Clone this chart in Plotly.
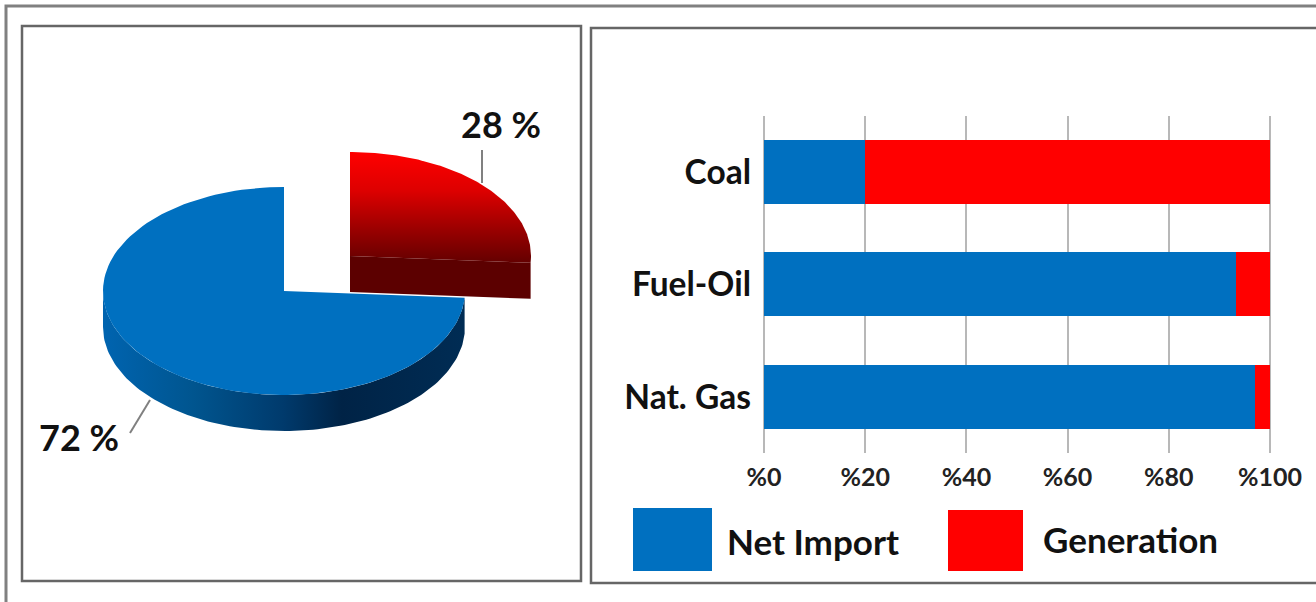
import numpy as np
import plotly.graph_objects as go

# ---- data ----
pie_names = ["Net Import", "Generation"]
pie_values = [72, 28]
categories = ["Coal", "Fuel-Oil", "Nat. Gas"]
net_import = [20, 93.3, 97]
generation = [80, 6.7, 3]
tick_vals = [0, 20, 40, 60, 80, 100]
tick_text = ["%0", "%20", "%40", "%60", "%80", "%100"]

# ---- style ----
W, H = 1316, 602
BLUE, RED = "#0070c0", "#ff0000"
FONT = "Lato"
RX, RY, DEPTH = 181, 104, 36
BLUE_C = (284, 291)
RED_C = (350, 256)
# the tilted 3D rendering shows the small slice slightly narrower than its share
SWEEP_FACTOR = 0.93
# small padding so the 0 and 100 gridlines stay inside the plot area
PAD = 0.4
PAD_PX = PAD * 506 / 100


def arc(cx, cy, t0, t1, n=120):
    t = np.radians(np.linspace(t0, t1, n))
    return cx + RX * np.sin(t), cy - RY * np.cos(t)


red_sweep = 360 * pie_values[1] / sum(pie_values) * SWEEP_FACTOR

fig = go.Figure()

# horizontal stacked bars
fig.add_trace(go.Bar(y=categories, x=net_import, name="Net Import", orientation="h",
                     marker=dict(color=BLUE, line_width=0), xaxis="x", yaxis="y"))
fig.add_trace(go.Bar(y=categories, x=generation, name="Generation", orientation="h",
                     marker=dict(color=RED, line_width=0), xaxis="x", yaxis="y"))


def poly(xs, ys, name, color=None, gradient=None):
    kw = dict(fillgradient=gradient) if gradient is not None else dict(fillcolor=color)
    fig.add_trace(go.Scatter(x=list(xs), y=list(ys), mode="lines", fill="toself",
                             line=dict(width=0), name=name, hoverinfo="name",
                             xaxis="x2", yaxis="y2", **kw))


# blue wall
ax, ay = arc(*BLUE_C, red_sweep, 270)
poly(np.r_[ax, ax[::-1]], np.r_[ay, ay[::-1] + DEPTH], pie_names[0],
     gradient=dict(type="horizontal",
                   colorscale=[[0, "#0064b0"], [0.25, "#00558f"], [0.5, "#003a6c"],
                               [0.66, "#002346"], [1, "#002c54"]]))
# blue top
ax, ay = arc(*BLUE_C, red_sweep, 360)
poly(np.r_[BLUE_C[0], ax, BLUE_C[0]], np.r_[BLUE_C[1], ay, BLUE_C[1]], pie_names[0], color=BLUE)
# red cut face
rx_, ry_ = arc(*RED_C, 0, red_sweep)
poly([RED_C[0], rx_[-1], rx_[-1], RED_C[0], RED_C[0]],
     [RED_C[1], ry_[-1], ry_[-1] + DEPTH, RED_C[1] + DEPTH, RED_C[1]],
     pie_names[1], color="#5c0000")
# red top
poly(np.r_[RED_C[0], rx_, RED_C[0]], np.r_[RED_C[1], ry_, RED_C[1]], pie_names[1],
     gradient=dict(type="vertical",
                   colorscale=[[0, "#640000"], [0.3, "#9a0000"], [0.65, "#dd0000"], [1, "#ff0000"]]))

frame = dict(type="rect", xref="x2", yref="y2", fillcolor="rgba(0,0,0,0)", layer="below")
shapes = [
    dict(frame, x0=6, y0=6, x1=W + 20, y1=H + 20, line=dict(color="#808080", width=3)),
    dict(frame, x0=22, y0=26, x1=581, y1=581, line=dict(color="#666666", width=2.5)),
    dict(frame, x0=591, y0=28, x1=W + 20, y1=583, line=dict(color="#666666", width=2.5)),
    dict(frame, x0=633, y0=508, x1=712, y1=571, fillcolor=BLUE, line_width=0),
    dict(frame, x0=948, y0=510, x1=1023, y1=571, fillcolor=RED, line_width=0),
    dict(type="line", xref="x2", yref="y2", x0=150, y0=400, x1=130, y1=433,
         line=dict(color="#808080", width=2)),
    dict(type="line", xref="x2", yref="y2", x0=482, y0=150, x1=482, y1=183,
         line=dict(color="#808080", width=2), layer="below"),
]


def note(x, y, text, size, anchor="center"):
    return dict(x=x, y=y, xref="x2", yref="y2", text=f"<b>{text}</b>", showarrow=False,
                xanchor=anchor, yanchor="middle", font=dict(family=FONT, size=size, color="#111111"))


annotations = [
    note(79, 437, f"{pie_values[0]} %", 36),
    note(501, 124, f"{pie_values[1]} %", 36),
    note(725, 541, pie_names[0], 35, "left"),
    note(1041, 539, pie_names[1], 35, "left"),
]

fig.update_layout(
    template=None,
    width=W, height=H, margin=dict(l=0, r=0, t=0, b=0, autoexpand=False),
    paper_bgcolor="white", plot_bgcolor="rgba(0,0,0,0)",
    barmode="stack", bargap=0.43, showlegend=False,
    shapes=shapes, annotations=annotations,
    xaxis=dict(domain=[(764 - PAD_PX) / W, (1270 + PAD_PX) / W], range=[-PAD, 100 + PAD],
               tickvals=tick_vals, ticktext=tick_text,
               showgrid=True, gridcolor="#b8b8b8", gridwidth=2, zeroline=False, showline=False,
               ticks="", ticklabelstandoff=7, automargin=False,
               tickfont=dict(family=FONT, size=25, color="#222222", weight="bold"), anchor="y"),
    yaxis=dict(domain=[1 - 453 / H, 1 - 115.75 / H], range=[2.5, -0.5], type="category",
               showgrid=False, zeroline=False, showline=False, ticks="", ticklabelstandoff=10,
               automargin=False,
               tickfont=dict(family=FONT, size=33.5, color="#111111", weight="bold"), anchor="x"),
    xaxis2=dict(domain=[0, 1], range=[0, W], visible=False, fixedrange=True, anchor="y2", automargin=False),
    yaxis2=dict(domain=[0, 1], range=[H, 0], visible=False, fixedrange=True, anchor="x2", automargin=False),
)

fig.write_html("out.html", config=dict(displayModeBar=False),
               post_script="document.body.style.margin='0';document.body.style.overflow='hidden';")
